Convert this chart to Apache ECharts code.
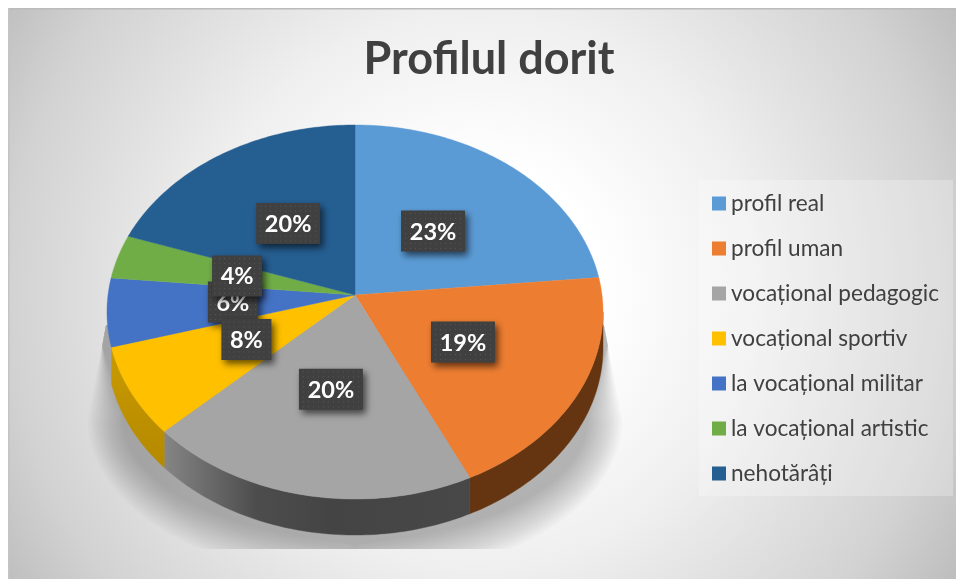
<!DOCTYPE html>
<html><head><meta charset="utf-8">
<style>html,body{margin:0;padding:0;background:#fff}#c{width:956px;height:579px}</style>
<script src="https://cdn.jsdelivr.net/npm/echarts@6/dist/echarts.min.js"></script>
</head><body><div id="c"></div>
<script>
const titleText = 'Profilul dorit';
const categories = ['profil real','profil uman','vocațional pedagogic','vocațional sportiv','la vocațional militar','la vocațional artistic','nehotărâți'];
const shares = [23.49,19.49,19.9,7.7,5.9,3.8,19.72];
const topColors = ['#5b9bd5','#ed7d31','#a5a5a5','#ffc000','#4472c4','#70ad47','#255e91'];
const wallColors = ['#3c6f9c','#653410','#454545','#bf9000','#2f5597','#4e7a32','#183f60'];
const labelRadius = [0.483,0.494,0.495,0.49,0.494,0.493,0.488];
const labelAngleShift = [0.2,0.5,0.3,1.2,0.9,0,0.4];
const labelOrder = [0,1,2,4,3,5,6];

const CX=355, CY=295, A=247, B=185.5, K=0.0909, DEPTH=36;
const rad = d => d*Math.PI/180;
function project(deg,r){
  const s=Math.sin(rad(deg))*r, v=-Math.cos(rad(deg))*r, d=1-K*v;
  return [CX+A*s/d, CY+B*v/d];
}
const total = shares.reduce((a,b)=>a+b,0);
function bounds(i){
  let acc=0; for(let j=0;j<i;j++) acc+=shares[j];
  return [acc/total*360,(acc+shares[i])/total*360];
}
function rim(a0,a1){
  const pts=[]; const n=Math.max(2,Math.ceil((a1-a0)));
  for(let i=0;i<=n;i++) pts.push(project(a0+(a1-a0)*i/n,1));
  return pts;
}
const WALL0=95.2, WALL1=254;

const dotCanvas=document.createElement('canvas');
dotCanvas.width=5;dotCanvas.height=5;
(function(){const g=dotCanvas.getContext('2d');g.fillStyle='#404040';g.fillRect(0,0,5,5);g.fillStyle='#565656';g.fillRect(2,2,1,1);})();

function sectorItem(idx){
  return function(params,api){
    const [a0,a1]=bounds(idx);
    const children=[];
    const wa=Math.max(a0,WALL0), wb=Math.min(a1,WALL1);
    if(wb>wa){
      const r=rim(wa,wb);
      const low=r.slice().reverse().map(p=>[p[0],p[1]+DEPTH]);
      let fill=wallColors[idx];
      if(idx===2){
        const x0=r[r.length-1][0], x1=r[0][0];
        fill=new echarts.graphic.LinearGradient(x0,0,x1,0,[{offset:0,color:'#858585'},{offset:.3,color:'#4d4d4d'},{offset:.55,color:'#444444'},{offset:1,color:'#484848'}],true);
      }
      if(idx===3){
        fill=new echarts.graphic.LinearGradient(0,r[r.length-1][1],0,r[0][1]+DEPTH,[{offset:0,color:'#c99a00'},{offset:1,color:'#b58900'}],true);
      }
      children.push({type:'polygon',shape:{points:r.concat(low)},style:{fill:fill,stroke:fill,lineWidth:.4}});
    }
    const pts=[[CX,CY]].concat(rim(a0,a1));
    children.push({type:'polygon',z2:2,shape:{points:pts},style:{fill:api.visual('color'),stroke:api.visual('color'),lineWidth:.4}});
    return {type:'group',children:children};
  };
}

function labelItem(params,api){
  const i=api.value(0), val=api.value(1);
  const [a0,a1]=bounds(i);
  const p=project((a0+a1)/2+labelAngleShift[i],labelRadius[i]);
  const t=Math.round(val/total*100)+'%';
  const w=t.length>2?64:50, h=41;
  return {type:'group',x:p[0],y:p[1],z2:params.dataIndexInside*3,children:[
    {type:'rect',z2:params.dataIndexInside*3,shape:{x:-w/2,y:-h/2,width:w,height:h},
     style:{fill:{image:dotCanvas,repeat:'repeat'},shadowBlur:7,shadowOffsetX:3,shadowOffsetY:4,shadowColor:'rgba(0,0,0,.6)'}},
    {type:'text',z2:params.dataIndexInside*3+1,x:0,y:1,style:{text:t,x:0,y:0,align:'center',verticalAlign:'middle',fill:'#fff',font:'bold 23.5px Lato'}}
  ]};
}

function shadowItem(){
  const els=[];const N=16;
  for(let l=0;l<N;l++){
    const t=l/(N-1), R=[],Lf=[];
    for(let y=325;y<=560;y+=4){
      const soft=Math.min(1,Math.max(0,(y-345)/70));
      const ins=34*t*soft;
      let w;
      if(y<420) w=249+(y-325)/95*18;
      else { const u=(y-420)/(158-ins); w=267*Math.sqrt(Math.max(0,1-u*u)); }
      w=Math.max(0,w-ins);
      const yy=Math.min(y,549);
      R.push([CX+w,yy]); Lf.unshift([CX-w,yy]);
    }
    els.push({type:'polygon',shape:{points:R.concat(Lf)},style:{fill:'rgba(70,70,70,0.026)'}});
  }
  return {type:'group',children:els};
}

const series=[{type:'custom',name:'_shadow',coordinateSystem:'none',silent:true,z:1,data:[0],renderItem:shadowItem,animation:false}];
categories.forEach((c,i)=>series.push({
  type:'custom',name:c,coordinateSystem:'none',z:2,animation:false,
  itemStyle:{color:topColors[i]},data:[[i,shares[i]]],renderItem:sectorItem(i),encode:{value:1}
}));
series.push({type:'custom',name:'_labels',coordinateSystem:'none',z:5,silent:true,animation:false,
  data:labelOrder.map(i=>[i,shares[i]]),renderItem:labelItem});

const chart=echarts.init(document.getElementById('c'),null,{renderer:'canvas'});
chart.setOption({
  animation:false,
  backgroundColor:'#fff',
  title:{text:titleText,left:484,top:32,textAlign:'center',textStyle:{color:'#404040',fontFamily:'Lato',fontWeight:'bold',fontSize:45}},
  legend:{data:categories,orient:'vertical',left:699,top:180,padding:[12,14,11,13],itemWidth:14,itemHeight:14,itemGap:22,icon:'rect',
    backgroundColor:'rgba(255,255,255,.25)',selectedMode:false,
    textStyle:{color:'#404040',fontFamily:'Lato',fontSize:22.6,lineHeight:23,padding:[0,0,0,0]}},
  graphic:[{type:'rect',z:-10,silent:true,shape:{x:8,y:8,width:948,height:571},
    style:{fill:new echarts.graphic.RadialGradient(478,290,560,[{offset:0,color:'#ffffff'},{offset:.22,color:'#ffffff'},{offset:.5,color:'#efefef'},{offset:.84,color:'#d2d2d2'},{offset:1,color:'#bdbdbd'}],true)}},
    {type:'rect',z:-9,silent:true,shape:{x:8,y:8,width:948,height:1.5},style:{fill:'#bbbbbb'}},
    {type:'rect',z:-9,silent:true,shape:{x:8,y:8,width:1.5,height:571},style:{fill:'#c4c4c4'}}],
  series:series
});
</script></body></html>
